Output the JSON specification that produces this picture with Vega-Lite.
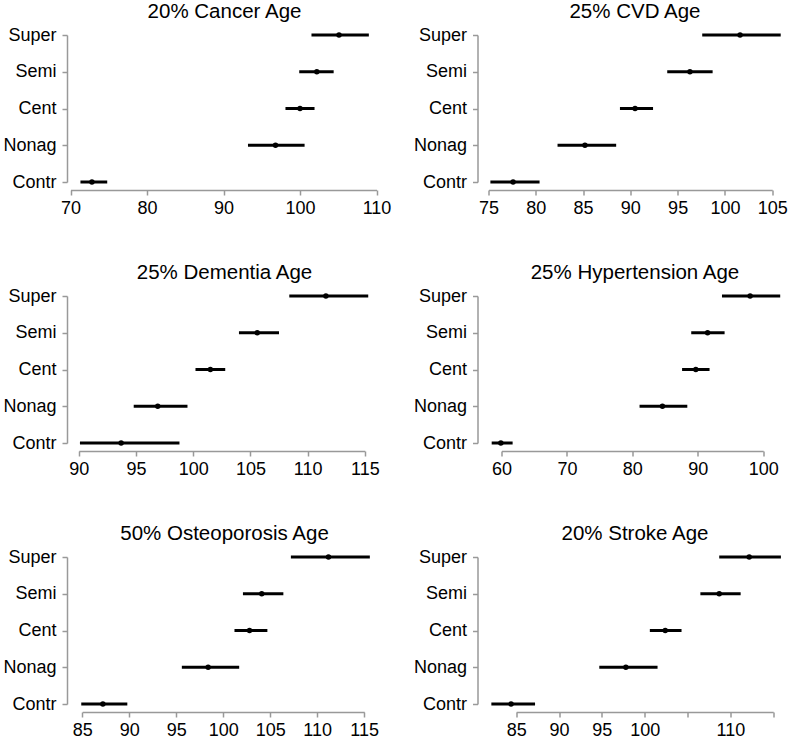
{
  "$schema": "https://vega.github.io/schema/vega-lite/v6.json",
  "padding": {"left": 2, "top": 1, "right": 0, "bottom": 0},
  "background": "white",
  "datasets": {
    "d": [
      {"panel": "Cancer", "group": "Super", "lo": 101.5, "hi": 109.0, "est": 105.1},
      {"panel": "Cancer", "group": "Semi", "lo": 99.9, "hi": 104.4, "est": 102.2},
      {"panel": "Cancer", "group": "Cent", "lo": 98.1, "hi": 101.9, "est": 100.0},
      {"panel": "Cancer", "group": "Nonag", "lo": 93.2, "hi": 100.6, "est": 96.8},
      {"panel": "Cancer", "group": "Contr", "lo": 71.3, "hi": 74.8, "est": 72.8},
      {"panel": "CVD", "group": "Super", "lo": 97.6, "hi": 105.9, "est": 101.6},
      {"panel": "CVD", "group": "Semi", "lo": 93.9, "hi": 98.7, "est": 96.3},
      {"panel": "CVD", "group": "Cent", "lo": 88.9, "hi": 92.4, "est": 90.5},
      {"panel": "CVD", "group": "Nonag", "lo": 82.3, "hi": 88.5, "est": 85.2},
      {"panel": "CVD", "group": "Contr", "lo": 75.2, "hi": 80.4, "est": 77.6},
      {"panel": "Dementia", "group": "Super", "lo": 108.4, "hi": 115.3, "est": 111.6},
      {"panel": "Dementia", "group": "Semi", "lo": 104.0, "hi": 107.5, "est": 105.6},
      {"panel": "Dementia", "group": "Cent", "lo": 100.2, "hi": 102.8, "est": 101.5},
      {"panel": "Dementia", "group": "Nonag", "lo": 94.8, "hi": 99.5, "est": 96.9},
      {"panel": "Dementia", "group": "Contr", "lo": 90.1, "hi": 98.8, "est": 93.7},
      {"panel": "Hypertension", "group": "Super", "lo": 93.7, "hi": 102.6, "est": 98.0},
      {"panel": "Hypertension", "group": "Semi", "lo": 89.0, "hi": 94.1, "est": 91.5},
      {"panel": "Hypertension", "group": "Cent", "lo": 87.6, "hi": 91.8, "est": 89.7},
      {"panel": "Hypertension", "group": "Nonag", "lo": 81.1, "hi": 88.4, "est": 84.6},
      {"panel": "Hypertension", "group": "Contr", "lo": 58.5, "hi": 61.7, "est": 59.9},
      {"panel": "Osteoporosis", "group": "Super", "lo": 107.2, "hi": 115.6, "est": 111.2},
      {"panel": "Osteoporosis", "group": "Semi", "lo": 102.1, "hi": 106.4, "est": 104.1},
      {"panel": "Osteoporosis", "group": "Cent", "lo": 101.2, "hi": 104.7, "est": 102.8},
      {"panel": "Osteoporosis", "group": "Nonag", "lo": 95.6, "hi": 101.7, "est": 98.4},
      {"panel": "Osteoporosis", "group": "Contr", "lo": 84.9, "hi": 89.8, "est": 87.2},
      {"panel": "Stroke", "group": "Super", "lo": 108.7, "hi": 115.9, "est": 112.2},
      {"panel": "Stroke", "group": "Semi", "lo": 106.5, "hi": 111.2, "est": 108.7},
      {"panel": "Stroke", "group": "Cent", "lo": 100.6, "hi": 104.3, "est": 102.4},
      {"panel": "Stroke", "group": "Nonag", "lo": 94.7, "hi": 101.5, "est": 97.8},
      {"panel": "Stroke", "group": "Contr", "lo": 82.1, "hi": 87.2, "est": 84.4}
    ]
  },
  "data": {"name": "d"},
  "columns": 2,
  "bounds": "flush",
  "spacing": {"row": 106, "column": 104.5},
  "concat": [
    {
      "title": {"text": "20% Cancer Age", "dx": 4.5},
      "width": 306, "height": 155,
      "transform": [{"filter": "datum.panel === 'Cancer'"}],
      "layer": [
        {"mark": {"type": "rule", "strokeWidth": 3, "color": "#000"},
         "encoding": {
           "x": {"field": "lo", "type": "quantitative", "scale": {"domain": [70, 110], "range": [3.5, 309.5], "nice": false, "zero": false}, "axis": {"values": [70, 80, 90, 100, 110]}},
           "x2": {"field": "hi"},
           "y": {"field": "group", "type": "nominal", "sort": ["Super", "Semi", "Cent", "Nonag", "Contr"], "scale": {"type": "point", "range": [0, 147], "padding": 0}}}},
        {"mark": {"type": "circle", "size": 30, "opacity": 1, "color": "#000"},
         "encoding": {"x": {"field": "est", "type": "quantitative"}, "y": {"field": "group", "type": "nominal", "sort": ["Super", "Semi", "Cent", "Nonag", "Contr"]}}}
      ]
    },
    {
      "title": {"text": "25% CVD Age", "dx": 4.5},
      "width": 306, "height": 155,
      "transform": [{"filter": "datum.panel === 'CVD'"}],
      "layer": [
        {"mark": {"type": "rule", "strokeWidth": 3, "color": "#000"},
         "encoding": {
           "x": {"field": "lo", "type": "quantitative", "scale": {"domain": [75, 105], "range": [11, 294.7], "nice": false, "zero": false}, "axis": {"values": [75, 80, 85, 90, 95, 100, 105]}},
           "x2": {"field": "hi"},
           "y": {"field": "group", "type": "nominal", "sort": ["Super", "Semi", "Cent", "Nonag", "Contr"], "scale": {"type": "point", "range": [0, 147], "padding": 0}}}},
        {"mark": {"type": "circle", "size": 30, "opacity": 1, "color": "#000"},
         "encoding": {"x": {"field": "est", "type": "quantitative"}, "y": {"field": "group", "type": "nominal", "sort": ["Super", "Semi", "Cent", "Nonag", "Contr"]}}}
      ]
    },
    {
      "title": {"text": "25% Dementia Age", "dx": 4.5},
      "width": 306, "height": 155,
      "transform": [{"filter": "datum.panel === 'Dementia'"}],
      "layer": [
        {"mark": {"type": "rule", "strokeWidth": 3, "color": "#000"},
         "encoding": {
           "x": {"field": "lo", "type": "quantitative", "scale": {"domain": [90, 115], "range": [11.8, 297.8], "nice": false, "zero": false}, "axis": {"values": [90, 95, 100, 105, 110, 115]}},
           "x2": {"field": "hi"},
           "y": {"field": "group", "type": "nominal", "sort": ["Super", "Semi", "Cent", "Nonag", "Contr"], "scale": {"type": "point", "range": [0, 147], "padding": 0}}}},
        {"mark": {"type": "circle", "size": 30, "opacity": 1, "color": "#000"},
         "encoding": {"x": {"field": "est", "type": "quantitative"}, "y": {"field": "group", "type": "nominal", "sort": ["Super", "Semi", "Cent", "Nonag", "Contr"]}}}
      ]
    },
    {
      "title": {"text": "25% Hypertension Age", "dx": 4.5},
      "width": 306, "height": 155,
      "transform": [{"filter": "datum.panel === 'Hypertension'"}],
      "layer": [
        {"mark": {"type": "rule", "strokeWidth": 3, "color": "#000"},
         "encoding": {
           "x": {"field": "lo", "type": "quantitative", "scale": {"domain": [60, 100], "range": [24, 285.7], "nice": false, "zero": false}, "axis": {"values": [60, 70, 80, 90, 100]}},
           "x2": {"field": "hi"},
           "y": {"field": "group", "type": "nominal", "sort": ["Super", "Semi", "Cent", "Nonag", "Contr"], "scale": {"type": "point", "range": [0, 147], "padding": 0}}}},
        {"mark": {"type": "circle", "size": 30, "opacity": 1, "color": "#000"},
         "encoding": {"x": {"field": "est", "type": "quantitative"}, "y": {"field": "group", "type": "nominal", "sort": ["Super", "Semi", "Cent", "Nonag", "Contr"]}}}
      ]
    },
    {
      "title": {"text": "50% Osteoporosis Age", "dx": 4.5},
      "width": 306, "height": 155,
      "transform": [{"filter": "datum.panel === 'Osteoporosis'"}],
      "layer": [
        {"mark": {"type": "rule", "strokeWidth": 3, "color": "#000"},
         "encoding": {
           "x": {"field": "lo", "type": "quantitative", "scale": {"domain": [85, 115], "range": [15.2, 297.2], "nice": false, "zero": false}, "axis": {"values": [85, 90, 95, 100, 105, 110, 115]}},
           "x2": {"field": "hi"},
           "y": {"field": "group", "type": "nominal", "sort": ["Super", "Semi", "Cent", "Nonag", "Contr"], "scale": {"type": "point", "range": [0, 147], "padding": 0}}}},
        {"mark": {"type": "circle", "size": 30, "opacity": 1, "color": "#000"},
         "encoding": {"x": {"field": "est", "type": "quantitative"}, "y": {"field": "group", "type": "nominal", "sort": ["Super", "Semi", "Cent", "Nonag", "Contr"]}}}
      ]
    },
    {
      "title": {"text": "20% Stroke Age", "dx": 4.5},
      "width": 306, "height": 155,
      "transform": [{"filter": "datum.panel === 'Stroke'"}],
      "layer": [
        {"mark": {"type": "rule", "strokeWidth": 3, "color": "#000"},
         "encoding": {
           "x": {"field": "lo", "type": "quantitative", "scale": {"domain": [85, 115], "range": [38.7, 295.7], "nice": false, "zero": false}, "axis": {"values": [85, 90, 95, 100, 105, 110, 115], "labelExpr": "datum.value === 105 || datum.value === 115 ? '' : datum.label"}},
           "x2": {"field": "hi"},
           "y": {"field": "group", "type": "nominal", "sort": ["Super", "Semi", "Cent", "Nonag", "Contr"], "scale": {"type": "point", "range": [0, 147], "padding": 0}}}},
        {"mark": {"type": "circle", "size": 30, "opacity": 1, "color": "#000"},
         "encoding": {"x": {"field": "est", "type": "quantitative"}, "y": {"field": "group", "type": "nominal", "sort": ["Super", "Semi", "Cent", "Nonag", "Contr"]}}}
      ]
    }
  ],
  "config": {
    "font": "Liberation Sans",
    "view": {"stroke": null},
    "axis": {
      "title": null,
      "grid": false,
      "domainColor": "#999999",
      "domainWidth": 1.5,
      "tickColor": "#999999",
      "tickWidth": 1.5,
      "tickSize": 5,
      "labelFont": "Liberation Sans",
      "labelFontSize": 18,
      "labelColor": "#000000",
      "labelOverlap": false
    },
    "axisX": {"labelPadding": 4, "labelFlush": false},
    "axisY": {"labelPadding": 6},
    "title": {
      "font": "Liberation Sans",
      "fontSize": 20.5,
      "fontWeight": "normal",
      "color": "#000000",
      "baseline": "alphabetic",
      "offset": 4,
      "anchor": "middle"
    }
  }
}
